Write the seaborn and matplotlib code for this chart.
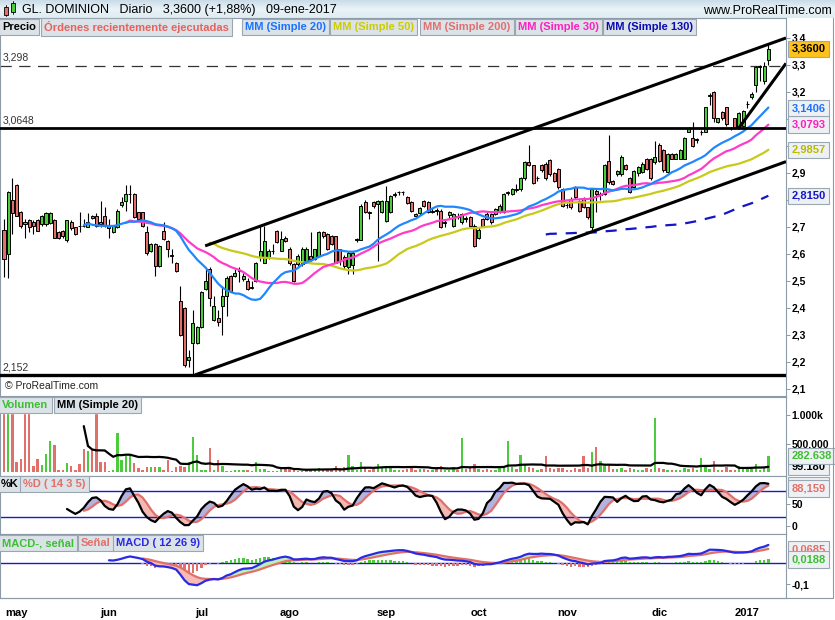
import numpy as np
import pandas as pd
import matplotlib
matplotlib.use("Agg")
import matplotlib.pyplot as plt
import seaborn as sns
from matplotlib.colors import LinearSegmentedColormap
from matplotlib.patches import Rectangle

# daily candles GL. DOMINION, 27-abr-2016 .. 09-ene-2017
opens = [2.69, 2.60, 2.80, 2.855, 2.755, 2.72, 2.725, 2.72, 2.725, 2.71,
         2.71, 2.715, 2.725, 2.68, 2.685, 2.65, 2.72, 2.70, 2.702, 2.702,
         2.70, 2.742, 2.742, 2.72, 2.742, 2.705, 2.68, 2.70, 2.78, 2.798,
         2.822, 2.823, 2.754, 2.754, 2.68, 2.612, 2.636, 2.556, 2.686, 2.649,
         2.593, 2.568, 2.425, 2.40, 2.206, 2.27, 2.27, 2.33, 2.469, 2.546,
         2.355, 2.363, 2.407, 2.444, 2.519, 2.519, 2.537, 2.506, 2.500, 2.475,
         2.500, 2.587, 2.568, 2.590, 2.612, 2.686, 2.612, 2.661, 2.620, 2.562,
         2.562, 2.562, 2.568, 2.593, 2.581, 2.593, 2.680, 2.674, 2.668, 2.665,
         2.618, 2.590, 2.550, 2.560, 2.650, 2.653, 2.792, 2.754, 2.792, 2.786,
         2.754, 2.723, 2.754, 2.818, 2.829, 2.829, 2.810, 2.792, 2.748, 2.750,
         2.798, 2.792, 2.755, 2.762, 2.760, 2.715, 2.745, 2.705, 2.742, 2.717,
         2.735, 2.736, 2.705, 2.660, 2.730, 2.748, 2.748, 2.748, 2.754, 2.754,
         2.825, 2.823, 2.842, 2.841, 2.881, 2.941, 2.928, 2.880, 2.931, 2.935,
         2.947, 2.901, 2.916, 2.841, 2.782, 2.804, 2.847, 2.798, 2.804, 2.773,
         2.700, 2.835, 2.820, 2.823, 2.943, 2.872, 2.897, 2.897, 2.931, 2.881,
         2.847, 2.901, 2.903, 2.953, 2.953, 2.941, 3.003, 2.984, 2.903, 2.972,
         2.953, 2.953, 2.953, 3.052, 3.030, 3.022, 3.050, 3.052, 3.186, 3.201,
         3.090, 3.124, 3.143, 3.066, 3.102, 3.071, 3.074, 3.154, 3.183, 3.226,
         3.294, 3.239, 3.319]
highs = [2.73, 2.835, 2.88, 2.86, 2.76, 2.73, 2.73, 2.725, 2.73, 2.745,
         2.755, 2.755, 2.73, 2.685, 2.69, 2.725, 2.725, 2.70, 2.757, 2.73,
         2.75, 2.745, 2.75, 2.795, 2.775, 2.73, 2.705, 2.765, 2.81, 2.855,
         2.855, 2.826, 2.757, 2.757, 2.705, 2.64, 2.64, 2.632, 2.717, 2.652,
         2.62, 2.57, 2.481, 2.404, 2.245, 2.394, 2.333, 2.462, 2.543, 2.55,
         2.444, 2.392, 2.481, 2.519, 2.522, 2.543, 2.55, 2.53, 2.51, 2.50,
         2.57, 2.705, 2.705, 2.62, 2.637, 2.69, 2.686, 2.665, 2.625, 2.565,
         2.60, 2.625, 2.625, 2.68, 2.62, 2.685, 2.685, 2.678, 2.67, 2.668,
         2.62, 2.595, 2.61, 2.61, 2.66, 2.785, 2.80, 2.76, 2.795, 2.80,
         2.80, 2.853, 2.82, 2.83, 2.835, 2.835, 2.815, 2.795, 2.752, 2.775,
         2.80, 2.795, 2.77, 2.77, 2.765, 2.73, 2.76, 2.75, 2.75, 2.752,
         2.74, 2.74, 2.71, 2.70, 2.735, 2.755, 2.752, 2.77, 2.785, 2.825,
         2.835, 2.845, 2.86, 2.885, 2.945, 3.003, 2.93, 2.89, 2.935, 2.94,
         2.95, 2.905, 2.92, 2.845, 2.79, 2.81, 2.85, 2.80, 2.81, 2.775,
         2.845, 2.84, 2.83, 2.935, 3.04, 2.875, 2.91, 2.965, 2.935, 2.885,
         2.91, 2.925, 2.94, 2.955, 2.955, 3.02, 3.01, 2.99, 2.975, 2.975,
         2.975, 2.99, 3.035, 3.07, 3.09, 3.03, 3.06, 3.145, 3.195, 3.205,
         3.105, 3.13, 3.145, 3.07, 3.105, 3.125, 3.135, 3.165, 3.20, 3.295,
         3.30, 3.31, 3.38]
lows = [2.515, 2.51, 2.675, 2.74, 2.695, 2.66, 2.68, 2.675, 2.685, 2.705,
        2.705, 2.71, 2.66, 2.655, 2.66, 2.645, 2.69, 2.67, 2.68, 2.70,
        2.70, 2.73, 2.70, 2.70, 2.70, 2.66, 2.678, 2.695, 2.775, 2.76,
        2.79, 2.735, 2.725, 2.70, 2.598, 2.608, 2.52, 2.55, 2.653, 2.59,
        2.568, 2.533, 2.295, 2.183, 2.183, 2.152, 2.265, 2.326, 2.466, 2.407,
        2.35, 2.332, 2.301, 2.37, 2.46, 2.515, 2.495, 2.50, 2.468, 2.47,
        2.498, 2.575, 2.565, 2.58, 2.60, 2.64, 2.61, 2.645, 2.56, 2.495,
        2.555, 2.556, 2.565, 2.575, 2.578, 2.59, 2.66, 2.615, 2.635, 2.565,
        2.56, 2.545, 2.525, 2.525, 2.645, 2.65, 2.75, 2.73, 2.77, 2.574,
        2.75, 2.72, 2.75, 2.81, 2.82, 2.82, 2.785, 2.755, 2.735, 2.745,
        2.775, 2.75, 2.75, 2.745, 2.695, 2.70, 2.735, 2.70, 2.73, 2.71,
        2.72, 2.70, 2.625, 2.655, 2.70, 2.725, 2.71, 2.745, 2.75, 2.75,
        2.82, 2.82, 2.83, 2.835, 2.875, 2.925, 2.86, 2.87, 2.905, 2.875,
        2.89, 2.865, 2.84, 2.775, 2.77, 2.765, 2.805, 2.755, 2.77, 2.73,
        2.68, 2.754, 2.80, 2.82, 2.86, 2.855, 2.89, 2.89, 2.91, 2.825,
        2.845, 2.89, 2.90, 2.91, 2.875, 2.935, 2.94, 2.905, 2.90, 2.95,
        2.95, 2.95, 2.95, 3.05, 2.995, 3.01, 3.04, 3.05, 3.15, 3.09,
        3.085, 3.095, 3.075, 3.06, 3.065, 3.065, 3.07, 3.14, 3.175, 3.20,
        3.24, 3.23, 3.30]
closes = [2.58, 2.83, 2.75, 2.74, 2.705, 2.71, 2.70, 2.705, 2.685, 2.74,
          2.75, 2.75, 2.66, 2.66, 2.665, 2.725, 2.695, 2.675, 2.70, 2.70,
          2.717, 2.732, 2.705, 2.71, 2.705, 2.695, 2.702, 2.76, 2.792, 2.823,
          2.823, 2.736, 2.730, 2.705, 2.605, 2.636, 2.556, 2.630, 2.655, 2.618,
          2.592, 2.537, 2.301, 2.19, 2.218, 2.345, 2.33, 2.46, 2.50, 2.438,
          2.409, 2.347, 2.444, 2.512, 2.463, 2.531, 2.540, 2.519, 2.471, 2.478,
          2.568, 2.612, 2.649, 2.612, 2.610, 2.643, 2.655, 2.649, 2.568, 2.500,
          2.593, 2.620, 2.620, 2.581, 2.618, 2.680, 2.665, 2.618, 2.637, 2.568,
          2.575, 2.555, 2.605, 2.605, 2.655, 2.779, 2.754, 2.752, 2.777, 2.798,
          2.798, 2.798, 2.816, 2.822, 2.830, 2.828, 2.790, 2.760, 2.742, 2.770,
          2.779, 2.754, 2.760, 2.758, 2.700, 2.717, 2.757, 2.748, 2.738, 2.748,
          2.728, 2.705, 2.630, 2.690, 2.705, 2.730, 2.717, 2.767, 2.779, 2.823,
          2.830, 2.841, 2.838, 2.881, 2.941, 2.928, 2.864, 2.882, 2.910, 2.881,
          2.897, 2.872, 2.847, 2.779, 2.780, 2.773, 2.810, 2.761, 2.773, 2.736,
          2.841, 2.823, 2.822, 2.931, 2.866, 2.860, 2.906, 2.959, 2.916, 2.829,
          2.906, 2.922, 2.935, 2.916, 2.881, 2.959, 2.943, 2.910, 2.972, 2.953,
          2.972, 2.984, 3.030, 3.067, 2.999, 3.024, 3.052, 3.143, 3.190, 3.102,
          3.102, 3.102, 3.083, 3.065, 3.071, 3.121, 3.131, 3.156, 3.193, 3.291,
          3.296, 3.298, 3.360]
# volume in millions of shares
volumes = [7.3, 1.6, 1.8, 0.19, 0.23, 1.15, 1.1, 0.11, 0.23, 0.13,
           0.32, 0.54, 0.48, 0.035, 0.04, 0.17, 0.11, 0.035, 0.15, 0.41,
           0.38, 0.39, 1.5, 0.19, 0.19, 0.02, 0.035, 0.68, 0.22, 0.29,
           0.33, 0.16, 0.07, 0.043, 0.09, 0.09, 0.09, 0.09, 0.04, 0.22,
           0.02, 0.10, 0.11, 0.09, 0.19, 0.62, 0.30, 0.04, 0.04, 0.42,
           0.04, 0.22, 0.11, 0.02, 0.02, 0.04, 0.04, 0.04, 0.04, 0.02,
           0.19, 0.06, 0.06, 0.02, 0.02, 0.02, 0.055, 0.055, 0.10, 0.04,
           0.03, 0.03, 0.06, 0.05, 0.04, 0.08, 0.04, 0.05, 0.06, 0.12,
           0.08, 0.10, 0.30, 0.12, 0.05, 0.18, 0.08, 0.05, 0.06, 0.14,
           0.10, 0.12, 0.08, 0.05, 0.04, 0.04, 0.06, 0.10, 0.05, 0.06,
           0.06, 0.05, 0.04, 0.08, 0.12, 0.05, 0.05, 0.10, 0.05, 0.60,
           0.06, 0.07, 0.15, 0.06, 0.05, 0.06, 0.04, 0.05, 0.07, 0.10,
           0.55, 0.10, 0.06, 0.30, 0.14, 0.10, 0.08, 0.05, 0.06, 0.28,
           0.07, 0.06, 0.08, 0.07, 0.05, 0.05, 0.07, 0.06, 0.28, 0.08,
           0.35, 0.45, 0.20, 0.12, 0.15, 0.06, 0.06, 0.08, 0.05, 0.07,
           0.06, 0.05, 0.05, 0.07, 0.06, 0.95, 0.08, 0.06, 0.05, 0.04,
           0.05, 0.05, 0.08, 0.06, 0.07, 0.04, 0.25, 0.09, 0.06, 0.20,
           0.05, 0.05, 0.10, 0.04, 0.05, 0.12, 0.06, 0.09, 0.06, 0.15,
           0.05, 0.10, 0.283]

month_labels = ["may", "jun", "jul", "ago", "sep", "oct", "nov", "dic", "2017"]
month_first_bar = [3, 25, 47, 68, 91, 113, 134, 156, 177]

# drawn objects (bar index, price)
channel_upper = [(47.9, 2.630), (186.2, 3.400)]
channel_lower = [(45.5, 2.152), (186.2, 2.942)]
short_trend = [(174.8, 3.063), (186.2, 3.306)]
level_prev_close = 3.298
level_resist = 3.0648
level_low = 2.152

# right-hand value boxes as shown in the chart
last_price = 3.36
last_ma20, last_ma30, last_ma50, last_ma130 = 3.1406, 3.0793, 2.9857, 2.8150
last_vol, last_vol_ma = 0.282638, 0.09918
last_k, last_d = 93.408, 88.159
last_signal, last_hist = 0.0685, 0.0188

W, H = 835, 620
sns.set_style("white")
plt.rcParams['font.family'] = ['Liberation Sans', 'DejaVu Sans']

df = pd.DataFrame({"open": opens, "high": highs, "low": lows,
                   "close": closes, "volume": volumes})
df["i"] = np.arange(len(df))
up = df["close"] >= df["open"]

GREEN = "#4ccb3c"
RED = "#e2706a"
FRAME = "#8d9ba8"


def rect(x0, y0, x1, y1):
    return [x0 / W, 1 - y1 / H, (x1 - x0) / W, (y1 - y0) / H]


def comma(v, nd):
    return f"{v:.{nd}f}".replace(".", ",")


fig = plt.figure(figsize=(W / 100, H / 100), dpi=100)
fig.patch.set_facecolor("white")

# header bar
ax_head = fig.add_axes(rect(0, 0, 835, 18))
grad = LinearSegmentedColormap.from_list("hdr", ["#c9dce8", "#eaf4f8", "#dfecf3"])
ax_head.imshow(np.linspace(0, 1, 30).reshape(-1, 1), aspect="auto", cmap=grad,
               extent=[0, 835, 18, 0])
ax_head.add_patch(Rectangle((4, 7), 4, 8, fc=RED, ec="black", lw=0.6))
ax_head.plot([6, 6], [5, 16], color="black", lw=0.6, zorder=0)
ax_head.add_patch(Rectangle((11, 3), 4, 9, fc=GREEN, ec="black", lw=0.6))
ax_head.plot([13, 13], [1, 14], color="black", lw=0.6, zorder=0)
ax_head.set_xlim(0, 835)
ax_head.set_ylim(18, 0)
ax_head.axis("off")
fig.text(22 / W, 1 - 10 / H, "GL. DOMINION   Diario   3,3600 (+1,88%)   09-ene-2017",
         fontsize=9, va="center", ha="left", color="black")
fig.text(832 / W, 1 - 11 / H, "www.ProRealTime.com", fontsize=9,
         va="center", ha="right", color="black")

xlim = (-0.95, 186.2)


def style_panel(ax):
    ax.set_xlim(*xlim)
    for s in ax.spines.values():
        s.set_color(FRAME)
        s.set_linewidth(0.8)
    ax.yaxis.tick_right()
    ax.tick_params(axis="y", direction="out", length=3, width=0.7, colors=FRAME,
                   labelcolor="black", labelsize=7.5, pad=1)
    ax.set_xticks([])
    ax.set_facecolor("white")


def value_box(ax, y, text, color, fc="#eef1f4"):
    ax.annotate(text, xy=(1, y), xycoords=("axes fraction", "data"),
                xytext=(4, 0), textcoords="offset points", ha="left", va="center",
                fontsize=8, fontweight="bold", color=color, annotation_clip=False,
                zorder=10,
                bbox=dict(boxstyle="square,pad=0.28", fc=fc, ec="#9aa8b4", lw=0.8))


def legend_row(items, y):
    for x, txt, col in items:
        fig.text(x / W, 1 - y / H, txt, fontsize=8, fontweight="bold", color=col,
                 va="center", ha="left",
                 bbox=dict(boxstyle="square,pad=0.3", fc="#dbe2e8", ec="#9aa6b0", lw=0.8))


# ---------------- price panel ----------------
ax = fig.add_axes(rect(0, 18, 786, 396))
style_panel(ax)
ax.set_ylim(2.074, 3.474)
ticks = np.round(np.arange(2.1, 3.45, 0.1), 1)
ax.set_yticks(ticks)
# 2,8 / 3,0 / 3,1 sit behind the moving-average value boxes
ax.set_yticklabels(["" if t in (2.8, 3.0, 3.1) else comma(t, 1) for t in ticks],
                   fontweight="bold")

ax.vlines(df["i"], df["low"], df["high"], color="black", lw=0.8, zorder=2)
body = (df["close"] - df["open"]).where(lambda s: s.abs() > 0.002, 0.002)
ax.bar(df["i"], body, bottom=df["open"], width=0.72,
       color=np.where(up, GREEN, RED), edgecolor="black", linewidth=0.7, zorder=3)

close = df["close"]
for win, col, ls in [(50, "#c9c91a", "-"), (30, "#ff3cc8", "-"),
                     (20, "#2088ff", "-"), (130, "#1414c8", (0, (5, 4)))]:
    ma = close.rolling(win).mean().dropna()
    sns.lineplot(x=ma.index, y=ma.values, ax=ax, color=col, lw=1.6,
                 linestyle=ls, zorder=4)

for pts in (channel_upper, channel_lower, short_trend):
    ax.plot([p[0] for p in pts], [p[1] for p in pts], color="black", lw=2.2,
            zorder=5, solid_capstyle="butt")
ax.axhline(level_prev_close, color="#333333", lw=0.9, ls=(0, (9, 6)), zorder=1)
ax.axhline(level_resist, color="black", lw=2.0, zorder=5)
ax.axhline(level_low, color="black", lw=2.4, zorder=5)
for lv, nd in [(level_prev_close, 3), (level_resist, 4), (level_low, 3)]:
    ax.annotate(comma(lv, nd), xy=(0.003, lv), xycoords=("axes fraction", "data"),
                xytext=(0, 2), textcoords="offset points", fontsize=7.5,
                color="#333333", va="bottom", ha="left")
ax.text(0.006, 0.012, "© ProRealTime.com", transform=ax.transAxes, fontsize=7.5,
        color="#222222", va="bottom", ha="left")

value_box(ax, last_ma130, comma(last_ma130, 4), "#1414c8")
value_box(ax, last_ma50, comma(last_ma50, 4), "#b9b900")
value_box(ax, last_ma30, comma(last_ma30, 4), "#ff1fbf")
value_box(ax, last_ma20, comma(last_ma20, 4), "#1a72ff")
value_box(ax, last_price, comma(last_price, 4), "black", fc="#ffc21a")

legend_row([(2, "Precio", "black"), (44, "Órdenes recientemente ejecutadas", "#e8615c"),
            (245, "MM (Simple 20)", "#1a72ff"), (333, "MM (Simple 50)", "#cccc00"),
            (423, "MM (Simple 200)", "#e07070"), (518, "MM (Simple 30)", "#ff1fbf"),
            (606, "MM (Simple 130)", "#0a0ab4")], 27)

# ---------------- volume panel ----------------
axv = fig.add_axes(rect(0, 397, 786, 476))
style_panel(axv)
axv.set_ylim(-0.061, 1.313)
axv.bar(df["i"], df["volume"], width=0.6, color=np.where(up, GREEN, RED),
        linewidth=0, zorder=2)
axv.axhspan(1.035, 1.4, color="white", zorder=2.5)
vma = df["volume"].rolling(20).mean().dropna()
sns.lineplot(x=vma.index, y=vma.values, ax=axv, color="black", lw=1.6, zorder=4)
axv.set_yticks([1.0, 0.5])
axv.set_yticklabels(["1.000k", "500.000"], fontweight="bold")
value_box(axv, last_vol_ma, "99.180", "black")
value_box(axv, last_vol, "282.638", "#3cbf30")
legend_row([(2, "Volumen", "#3cbf30"), (57, "MM (Simple 20)", "black")], 405)

# ---------------- stochastic panel ----------------
axs = fig.add_axes(rect(0, 476, 786, 534))
style_panel(axs)
axs.set_ylim(-17.6, 113.3)
ll = df["low"].rolling(14).min()
hh = df["high"].rolling(14).max()
k = (100 * (close - ll) / (hh - ll)).rolling(3).mean()
d = k.rolling(5).mean()
axs.fill_between(df["i"], k, d, where=k >= d, interpolate=True, color="#b3b3de", lw=0)
axs.fill_between(df["i"], k, d, where=k < d, interpolate=True, color="#f3b8b2", lw=0)
axs.axhline(80, color="#1a1ad0", lw=1)
axs.axhline(20, color="#1a1ad0", lw=1)
sns.lineplot(x=d.dropna().index, y=d.dropna().values, ax=axs, color="#e2706a", lw=1.6)
sns.lineplot(x=k.dropna().index, y=k.dropna().values, ax=axs, color="black", lw=1.6)
axs.set_yticks([50, 0])
axs.set_yticklabels(["50", "0"], fontweight="bold")
value_box(axs, last_k, comma(last_k, 3), "black")
value_box(axs, last_d - 3, comma(last_d, 3), "#e2706a")
legend_row([(1, "%K", "black"), (23, "%D ( 14 3 5)", "#e2706a")], 484)

# ---------------- MACD panel ----------------
axm = fig.add_axes(rect(0, 534, 786, 598))
style_panel(axm)
axm.set_ylim(-0.1676, 0.1415)
macd = close.ewm(span=12, adjust=False).mean() - close.ewm(span=26, adjust=False).mean()
macd[:25] = np.nan
signal = macd.ewm(span=9, adjust=False).mean()
signal[:33] = np.nan
hist = macd - signal
axm.axhline(0, color="#1a1ad0", lw=1)
axm.bar(df["i"], hist, width=0.55, color=np.where(hist >= 0, GREEN, RED), lw=0, zorder=2)
axm.fill_between(df["i"], macd, signal, where=macd >= signal, interpolate=True,
                 color="#bdf0b4", lw=0, zorder=2.5)
axm.fill_between(df["i"], macd, signal, where=macd < signal, interpolate=True,
                 color="#f5bbb4", lw=0, zorder=2.5)
sns.lineplot(x=signal.dropna().index, y=signal.dropna().values, ax=axm,
             color="#e2706a", lw=1.6, zorder=3)
sns.lineplot(x=macd.dropna().index, y=macd.dropna().values, ax=axm,
             color="#2a2ae6", lw=1.6, zorder=4)
axm.set_yticks([-0.1])
axm.set_yticklabels(["-0,1"], fontweight="bold")
value_box(axm, last_signal, comma(last_signal, 4), "#e2706a")
value_box(axm, last_hist, comma(last_hist, 4), "#3cbf30")
legend_row([(2, "MACD-, señal", "#3cbf30"), (81, "Señal", "#e2706a"),
            (116, "MACD ( 12 26 9)", "#2a2ae6")], 543)

axm.set_xticks(month_first_bar)
axm.set_xticklabels(month_labels)
axm.tick_params(axis="x", direction="out", length=4, width=0.7, colors=FRAME,
                labelcolor="black", labelsize=8, pad=3)

for a in (ax, axv, axs, axm):
    for lab in a.get_yticklabels() + a.get_xticklabels():
        lab.set_fontweight("bold")

# outer frame of the right scale area
fig.add_artist(plt.Line2D([833 / W, 833 / W], [1 - 18 / H, 1 - 598 / H],
                          color=FRAME, lw=0.8))
fig.add_artist(plt.Line2D([0, 833 / W], [1 - 598 / H, 1 - 598 / H], color=FRAME, lw=0.8))

fig.savefig("out.png", dpi=100)
